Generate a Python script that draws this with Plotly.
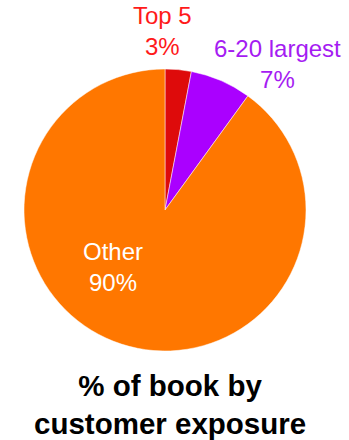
import plotly.graph_objects as go

categories = ["Top 5", "6-20 largest", "Other"]
values = [3, 7, 90]
slice_colors = ["#DE0B0B", "#AA00FF", "#FF7700"]
text_colors = ["#FF1A1A", "#A51CF2", "#FFFFFF"]
title_lines = ["% of book by", "customer exposure"]

W, H = 349, 440
fig = go.Figure()
fig.add_trace(go.Pie(
    labels=categories, values=values, sort=False, direction="clockwise",
    rotation=0, marker=dict(colors=slice_colors, line=dict(color="white", width=0.5)),
    textinfo="none", hoverinfo="label+percent", showlegend=False,
    domain=dict(x=[23 / W, 307 / W], y=[(H - 351) / H, (H - 69) / H]),
))

# label positions (pixels from top-left) for each category
label_pos = [(162, 31), (277, 64), (113, 267)]
for cat, v, col, (px, py) in zip(categories, values, text_colors, label_pos):
    fig.add_annotation(
        x=px / W, y=(H - py) / H, xref="paper", yref="paper",
        xanchor="center", yanchor="middle", showarrow=False,
        text=f"{cat}<br>{v}%", font=dict(family="Liberation Sans, Arial", size=24, color=col),
    )

fig.add_annotation(
    x=170 / W, y=(H - 404) / H, xref="paper", yref="paper",
    xanchor="center", yanchor="middle", showarrow=False,
    text="<b>" + "<br>".join(title_lines) + "</b>",
    font=dict(family="Liberation Sans, Arial", size=29.5, color="#000000"),
)

fig.update_layout(
    width=W, height=H, margin=dict(l=0, r=0, t=0, b=0),
    paper_bgcolor="white", plot_bgcolor="white",
)
fig.write_html("out.html")
